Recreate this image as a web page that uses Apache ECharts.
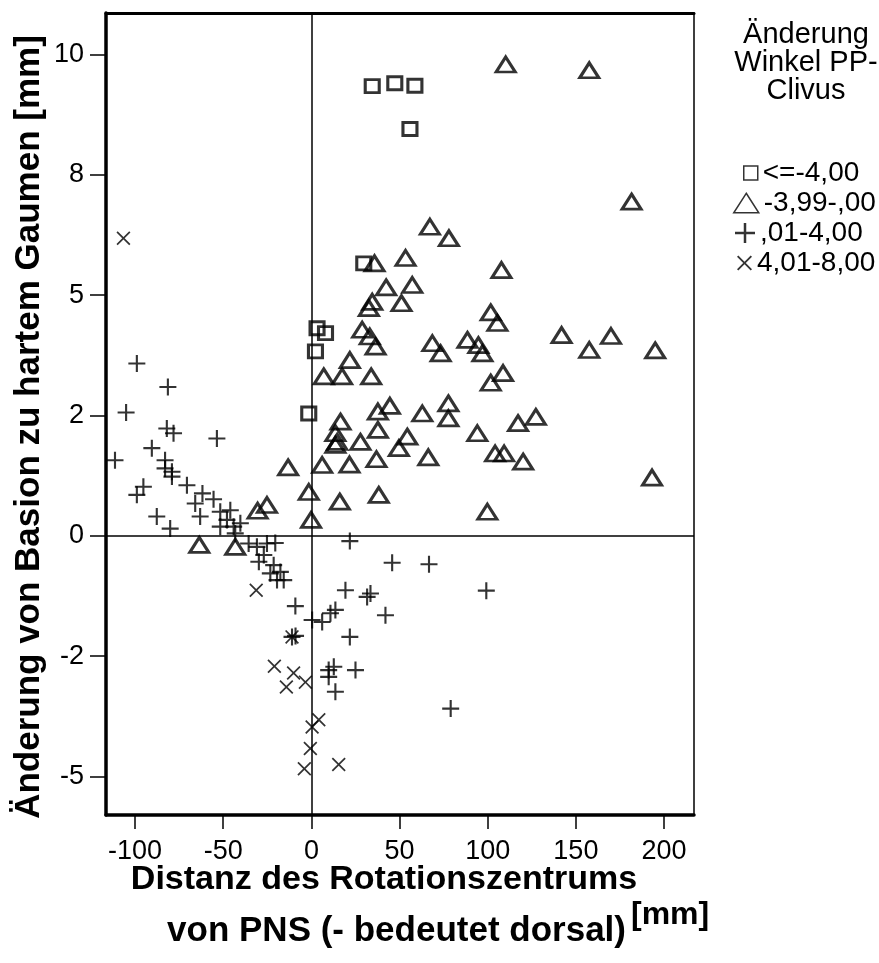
<!DOCTYPE html>
<html>
<head>
<meta charset="utf-8">
<script src="https://cdn.jsdelivr.net/npm/echarts@6/dist/echarts.min.js"></script>
<style>
  html, body { margin: 0; padding: 0; background: #fff; }
  #chart { width: 879px; height: 963px; }
</style>
</head>
<body>
<div id="chart"></div>
<script>
  // Kategorien (Änderung Winkel PP-Clivus)
  const groupNames = ['<=-4,00', '-3,99-,00', ',01-4,00', '4,01-8,00'];

  // Achsen-Ticks
  const xTicks = [-100, -50, 0, 50, 100, 150, 200];
  const yTicks = [-5, -2.5, 0, 2.5, 5, 7.5, 10];
  const yTickLabels = ['-5', '-2', '0', '2', '5', '8', '10'];

  // [Distanz, Änderung]
  const squarePoints = [
    [34.5, 9.34], [47.3, 9.40], [58.7, 9.35], [55.9, 8.45], [29.7, 5.66],
    [3.2, 4.31], [8, 4.21], [2.3, 3.83], [-1.5, 2.54]
  ];
  const trianglePoints = [
    [110.2, 9.79], [157.6, 9.67], [181.6, 6.94], [67.2, 6.42], [78, 6.18],
    [35.8, 5.66], [53.4, 5.77], [107.8, 5.52], [42.4, 5.16], [57.2, 5.21],
    [34.5, 4.86], [32.6, 4.73], [51.1, 4.83], [101.7, 4.64], [105.5, 4.42],
    [28.8, 4.28], [33.1, 4.14], [36.4, 3.93], [68.6, 4.0], [73.3, 3.79],
    [88.5, 4.07], [94.7, 3.96], [97, 3.79], [141.9, 4.17], [157.6, 3.86],
    [169.9, 4.15], [195, 3.85], [21.8, 3.65], [7, 3.31], [17.4, 3.31],
    [33.9, 3.31], [108.7, 3.38], [101.7, 3.18],
    [44.5, 2.70], [37.7, 2.58], [62.9, 2.54], [77.7, 2.75], [77.7, 2.44],
    [16.5, 2.37], [13.6, 2.13], [14.6, 1.95], [13.6, 1.89], [27.8, 1.95],
    [37.7, 2.20], [54.4, 2.06], [49.6, 1.82], [66.3, 1.63], [36.9, 1.59],
    [21.6, 1.48], [6.1, 1.47], [94.1, 2.13], [117.2, 2.34], [127.3, 2.47],
    [104.2, 1.71], [109.3, 1.71], [120.1, 1.54], [193.2, 1.21], [-1.5, 0.91],
    [16.1, 0.71], [38.2, 0.85], [99.8, 0.50], [-0.2, 0.33], [-13.2, 1.42],
    [-25.2, 0.64], [-30.5, 0.52], [-63.6, -0.19], [-43.2, -0.23]
  ];
  const plusPoints = [
    [-99, 3.58], [-81.4, 3.09], [-105.1, 2.56], [-82, 2.23], [-78.2, 2.13],
    [-53.6, 2.02], [-90.5, 1.82], [-111.4, 1.57], [-83, 1.57], [-79.1, 1.33],
    [-79.1, 1.23], [-83, 1.40], [-70.6, 1.05], [-99, 0.85], [-95.3, 1.02],
    [-87.7, 0.40], [-80.1, 0.15], [-61.8, 0.88], [-65.9, 0.67], [-55.5, 0.76],
    [-63.1, 0.40], [-51.7, 0.50], [-46, 0.53], [-47.9, 0.33], [-44.1, 0.19],
    [-40.3, 0.26], [-51.7, 0.19], [-43.2, 0.05], [-35.6, -0.16], [-30.9, -0.23],
    [-25.2, -0.16], [-20.5, -0.15], [-27, -0.40], [-29.8, -0.54], [-21.4, -0.61],
    [-17.6, -0.75], [-23.3, -0.78], [-15.7, -0.92], [-19.5, -0.92], [-9.1, -1.46],
    [-11, -2.10], [-9, -2.08], [0.4, -1.75], [6.1, -1.79], [10.8, -1.61],
    [13.6, -1.54], [19.3, -1.13], [31.6, -1.27], [33.5, -1.20], [42, -1.65],
    [21.8, -2.10], [21.8, -0.11], [45.8, -0.56], [66.7, -0.59], [12.7, -2.72],
    [9.8, -2.79], [9.8, -2.93], [25, -2.79], [13.6, -3.24], [79, -3.59],
    [99.2, -1.14]
  ];
  const crossPoints = [
    [-106.6, 6.18], [-31.3, -1.13], [-21, -2.71], [-10.1, -2.85], [-14.2, -3.14],
    [-3.4, -3.04], [4.2, -3.82], [0.4, -3.97], [-0.6, -4.42], [-4, -4.84],
    [15.5, -4.75], [-11, -2.10]
  ];

  const squarePath = 'path://M0,0H10V10H0Z';
  const trianglePath = 'path://M9,0L18,14L0,14Z';
  const plusPath = 'path://M0,7H7V0H9V7H16V9H9V16H7V9H0Z';
  const crossPath = 'path://M1.4,0L8,6.6L14.6,0L16,1.4L9.4,8L16,14.6L14.6,16L8,9.4L1.4,16L0,14.6L6.6,8L0,1.4Z';

  const textFont = '"Liberation Sans", Arial, sans-serif';

  const chart = echarts.init(document.getElementById('chart'));

  function legendBox(name, left, top, w, h, bw) {
    return {
      data: [name],
      orient: 'vertical',
      left: left,
      top: top,
      padding: 0,
      itemWidth: w,
      itemHeight: h,
      selectedMode: false,
      itemStyle: { borderWidth: bw },
      textStyle: { fontSize: 28, fontFamily: textFont, color: '#000', lineHeight: 30 }
    };
  }

  const option = {
    animation: false,
    backgroundColor: '#fff',
    grid: {
      left: 106, right: 185, top: 13, bottom: 148,
      show: true, borderColor: '#000', borderWidth: 1.5
    },
    xAxis: [
      {
        type: 'value',
        min: -116.5,
        max: 217,
        axisLine: { show: true, onZero: false, lineStyle: { color: '#000', width: 3.5 } },
        axisTick: { show: true, customValues: xTicks, length: 14, lineStyle: { color: '#000', width: 1.5 } },
        axisLabel: {
          customValues: xTicks, fontSize: 27, margin: 23, color: '#000', fontFamily: textFont
        },
        splitLine: { show: false }
      },
      {
        type: 'value',
        position: 'top',
        min: -116.5,
        max: 217,
        axisLine: { show: true, onZero: false, lineStyle: { color: '#000', width: 3 } },
        axisTick: { show: false },
        axisLabel: { show: false },
        splitLine: { show: false }
      }
    ],
    yAxis: {
      type: 'value',
      min: -5.8,
      max: 10.86,
      axisLine: { show: true, onZero: false, lineStyle: { color: '#000', width: 3.5 } },
      axisTick: { show: true, customValues: yTicks, length: 16, lineStyle: { color: '#000', width: 1.5 } },
      axisLabel: {
        customValues: yTicks, fontSize: 27, margin: 22, color: '#000', fontFamily: textFont,
        formatter: (v) => {
          const i = yTicks.indexOf(v);
          return i >= 0 ? yTickLabels[i] : '';
        }
      },
      splitLine: { show: false }
    },
    legend: [
      legendBox(groupNames[0], 743, 158, 14, 14, 1.5),
      legendBox(groupNames[1], 733, 188, 25, 20, 1.5),
      legendBox(groupNames[2], 735, 218, 20, 20, 0),
      legendBox(groupNames[3], 737, 248, 15, 15, 0)
    ],
    graphic: [
      {
        type: 'text', x: 806, y: 21,
        style: {
          text: 'Änderung\nWinkel PP-\nClivus', font: '29px ' + textFont,
          fill: '#000', align: 'center', verticalAlign: 'top', lineHeight: 28
        }
      },
      {
        type: 'text', x: 29, y: 427, rotation: Math.PI / 2,
        style: {
          text: 'Änderung von Basion zu hartem Gaumen [mm]', font: 'bold 35px ' + textFont,
          fill: '#000', align: 'center', verticalAlign: 'middle'
        }
      },
      {
        type: 'text', x: 384, y: 880,
        style: {
          text: 'Distanz des Rotationszentrums', font: 'bold 34px ' + textFont,
          fill: '#000', align: 'center', verticalAlign: 'middle'
        }
      },
      {
        type: 'text', x: 626, y: 931,
        style: {
          text: 'von PNS (- bedeutet dorsal)', font: 'bold 35px ' + textFont,
          fill: '#000', align: 'right', verticalAlign: 'middle'
        }
      },
      {
        type: 'text', x: 631, y: 915,
        style: {
          text: '[mm]', font: 'bold 32px ' + textFont,
          fill: '#000', align: 'left', verticalAlign: 'middle'
        }
      }
    ],
    series: [
      {
        name: groupNames[0],
        type: 'scatter',
        data: squarePoints,
        symbol: squarePath,
        symbolSize: [14, 13],
        itemStyle: { color: 'rgba(255,255,255,0)', borderColor: '#000', borderWidth: 3 },
        z: 3
      },
      {
        name: groupNames[1],
        type: 'scatter',
        data: trianglePoints,
        symbol: trianglePath,
        symbolSize: [19, 15],
        itemStyle: { color: 'rgba(255,255,255,0)', borderColor: '#000', borderWidth: 3 },
        z: 3,
        markLine: {
          silent: true,
          symbol: ['none', 'none'],
          label: { show: false },
          lineStyle: { color: '#000', width: 1.5, type: 'solid' },
          data: [{ xAxis: 0 }, { yAxis: 0 }]
        }
      },
      {
        name: groupNames[2],
        type: 'scatter',
        data: plusPoints,
        symbol: plusPath,
        symbolSize: 17,
        itemStyle: { color: '#000', borderWidth: 0 },
        z: 3
      },
      {
        name: groupNames[3],
        type: 'scatter',
        data: crossPoints,
        symbol: crossPath,
        symbolSize: 14,
        itemStyle: { color: '#000', borderWidth: 0 },
        z: 3
      }
    ]
  };

  chart.setOption(option);
</script>
</body>
</html>
